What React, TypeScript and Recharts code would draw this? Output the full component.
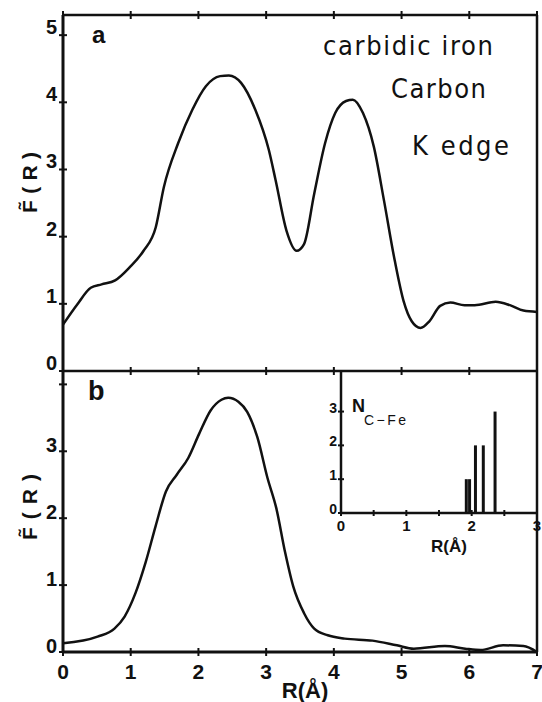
import { LineChart, Line, XAxis, YAxis, BarChart, Bar, ReferenceLine } from 'recharts';

// panel a: carbidic iron, carbon K edge
const rA = [0, 0.21, 0.41, 0.57, 0.77, 0.98, 1.19, 1.37, 1.49, 1.7, 1.91, 2.11, 2.32, 2.45, 2.63, 2.84, 3.04, 3.14, 3.3, 3.45, 3.56, 3.71, 3.87, 4.02, 4.18, 4.28, 4.43, 4.59, 4.74, 4.9, 5.03, 5.15, 5.28, 5.41, 5.57, 5.72, 5.93, 6.08, 6.39, 6.6, 6.8, 7];
const fA = [0.69, 0.99, 1.24, 1.29, 1.35, 1.54, 1.79, 2.14, 2.74, 3.39, 3.89, 4.24, 4.39, 4.4, 4.29, 3.89, 3.29, 2.84, 2.09, 1.79, 1.89, 2.64, 3.39, 3.84, 4.02, 4.04, 3.84, 3.34, 2.54, 1.64, 1.04, 0.74, 0.64, 0.74, 0.97, 1.02, 0.98, 0.98, 1.03, 0.98, 0.9, 0.88];

// panel b: calculated
const rB = [0, 0.51, 0.76, 0.91, 1.07, 1.22, 1.37, 1.52, 1.68, 1.85, 2.01, 2.18, 2.34, 2.44, 2.59, 2.72, 2.87, 3.02, 3.15, 3.28, 3.4, 3.56, 3.71, 3.91, 4.16, 4.57, 4.93, 5.18, 5.64, 5.94, 6.17, 6.5, 6.8, 7];
const fB = [0.13, 0.23, 0.35, 0.53, 0.88, 1.34, 1.89, 2.4, 2.65, 2.9, 3.26, 3.61, 3.77, 3.8, 3.74, 3.59, 3.21, 2.6, 2.15, 1.49, 0.98, 0.58, 0.35, 0.25, 0.2, 0.17, 0.1, 0.05, 0.09, 0.05, 0.03, 0.1, 0.09, 0];

// inset: C-Fe coordination shells
const shellR = [1.92, 1.97, 2.06, 2.18, 2.36];
const shellN = [1, 1, 2, 2, 3];

const xTicks = [0, 1, 2, 3, 4, 5, 6, 7];
const yTicksA = [0, 1, 2, 3, 4, 5];
const yTicksB = [0, 1, 2, 3, 4];
const insetXTicks = [0, 0.5, 1, 1.5, 2, 2.5, 3];
const insetYTicks = [0, 1, 2, 3];

const dataA = rA.map((r, i) => ({ r, f: fA[i] }));
const dataB = rB.map((r, i) => ({ r, f: fB[i] }));
const dataInset = shellR.map((r, i) => ({ r, n: shellN[i] }));

const FONT = '"Liberation Sans", Arial, sans-serif';
const K = '#111';

// tick marks that cross the axis line
const xTick = (showLabel: boolean, size = 4, fs = 21, dy = 27) => (p: any) => (
  <g>
    <line x1={p.x} x2={p.x} y1={p.y - size} y2={p.y + size} stroke={K} strokeWidth={2} />
    {showLabel && Number.isInteger(p.payload.value) && (
      <text x={p.x} y={p.y + dy} textAnchor="middle" fontFamily={FONT} fontWeight="bold" fontSize={fs} fill={K}>
        {p.payload.value}
      </text>
    )}
  </g>
);

const yTick = (hide: number[], size = 4, fs = 20, gap = 6, dy = 1) => (p: any) => (
  <g>
    <line x1={p.x - size} x2={p.x + size} y1={p.y} y2={p.y} stroke={K} strokeWidth={2} />
    {!hide.includes(p.payload.value) && (
      <text x={p.x - gap} y={p.y + dy} textAnchor="end" fontFamily={FONT} fontWeight="bold" fontSize={fs} fill={K}>
        {p.payload.value}
      </text>
    )}
  </g>
);

export default function App() {
  return (
    <div style={{ position: 'absolute', left: 0, top: 0, width: 542, height: 702, background: '#fff', overflow: 'hidden' }}>
      {/* panel a */}
      <div style={{ position: 'absolute', left: 0, top: 0 }}>
        <LineChart width={542} height={384} data={dataA} margin={{ top: 14, right: 5, bottom: 13, left: 62 }}>
          <XAxis dataKey="r" type="number" domain={[0, 7]} ticks={xTicks} interval={0} orientation="top" height={1}
            tickSize={0} tickMargin={0} tick={xTick(false)} axisLine={{ stroke: K, strokeWidth: 2.5 }} />
          <YAxis type="number" domain={[0, 5.3]} ticks={yTicksA} interval={0} width={1} tickSize={0} tickMargin={0}
            tick={yTick([], 4, 20, 6, -1)} axisLine={{ stroke: K, strokeWidth: 3 }} />
          <ReferenceLine x={7} stroke={K} strokeWidth={2.5} />
          <Line dataKey="f" type="monotone" stroke={K} strokeWidth={2.5} dot={false} isAnimationActive={false} />
        </LineChart>
      </div>

      {/* panel b */}
      <div style={{ position: 'absolute', left: 0, top: 340 }}>
        <LineChart width={542} height={362} data={dataB} margin={{ top: 30, right: 5, bottom: 49, left: 62 }}>
          <XAxis dataKey="r" type="number" domain={[0, 7]} ticks={xTicks} interval={0} orientation="bottom" height={1}
            tickSize={0} tickMargin={0} tick={xTick(true)} axisLine={{ stroke: K, strokeWidth: 3 }} />
          <XAxis xAxisId="top" dataKey="r" type="number" domain={[0, 7]} ticks={xTicks} interval={0} orientation="top" height={1}
            tickSize={0} tickMargin={0} tick={xTick(false)} axisLine={{ stroke: K, strokeWidth: 2.5 }} />
          <YAxis type="number" domain={[0, 4.2]} ticks={yTicksB} interval={0} width={1} tickSize={0} tickMargin={0}
            tick={yTick([4])} axisLine={{ stroke: K, strokeWidth: 3 }} />
          <ReferenceLine x={7} stroke={K} strokeWidth={2.5} />
          <Line dataKey="f" type="monotone" stroke={K} strokeWidth={2.5} dot={false} isAnimationActive={false} />
        </LineChart>
      </div>

      {/* inset */}
      <div style={{ position: 'absolute', left: 300, top: 372 }}>
        <BarChart width={242} height={200} data={dataInset} margin={{ top: 0, right: 5, bottom: 58, left: 40 }}>
          <XAxis dataKey="r" type="number" domain={[0, 3]} ticks={insetXTicks} interval={0} height={1}
            tickSize={0} tickMargin={0} tick={xTick(true, 3, 15, 18)} axisLine={{ stroke: K, strokeWidth: 2.5 }} />
          <YAxis type="number" domain={[0, 4.17]} ticks={insetYTicks} interval={0} width={1} tickSize={0} tickMargin={0}
            tick={yTick([], 3, 14, 4, 1)} axisLine={{ stroke: K, strokeWidth: 2.5 }} />
          <Bar dataKey="n" fill={K} barSize={3} isAnimationActive={false} />
        </BarChart>
      </div>

      {/* annotations */}
      <svg width={542} height={702} style={{ position: 'absolute', left: 0, top: 0, pointerEvents: 'none' }}>
        <g fontFamily={FONT} fill={K}>
          <text x={92} y={43} fontSize={24} fontWeight="bold">a</text>
          <text x={88} y={400} fontSize={27} fontWeight="bold">b</text>
          <g fontFamily='"Liberation Sans Narrow", "DejaVu Sans Condensed", sans-serif' fontSize={27}>
            <text x={323} y={55} textLength={170} lengthAdjust="spacing">carbidic iron</text>
            <text x={391} y={98} textLength={95} lengthAdjust="spacing">Carbon</text>
            <text x={412} y={155} textLength={97} lengthAdjust="spacing">K  edge</text>
          </g>
          <text transform="translate(37,213) rotate(-90)" fontSize={21} fontWeight="bold" textLength={61} lengthAdjust="spacing">F&#x0303;(R)</text>
          <text transform="translate(37,540) rotate(-90)" fontSize={21} fontWeight="bold" textLength={66} lengthAdjust="spacing">F&#x0303;(R)</text>
          <text x={305} y={698} fontSize={22} fontWeight="bold" textAnchor="middle">R(Å)</text>
          <text x={449} y={552} fontSize={17} fontWeight="bold" textAnchor="middle">R(Å)</text>
          <text x={352} y={412} fontSize={18} fontWeight="bold">N</text>
          <text x={364} y={425} fontSize={14} textLength={42} lengthAdjust="spacing">C−Fe</text>
        </g>
      </svg>
    </div>
  );
}
